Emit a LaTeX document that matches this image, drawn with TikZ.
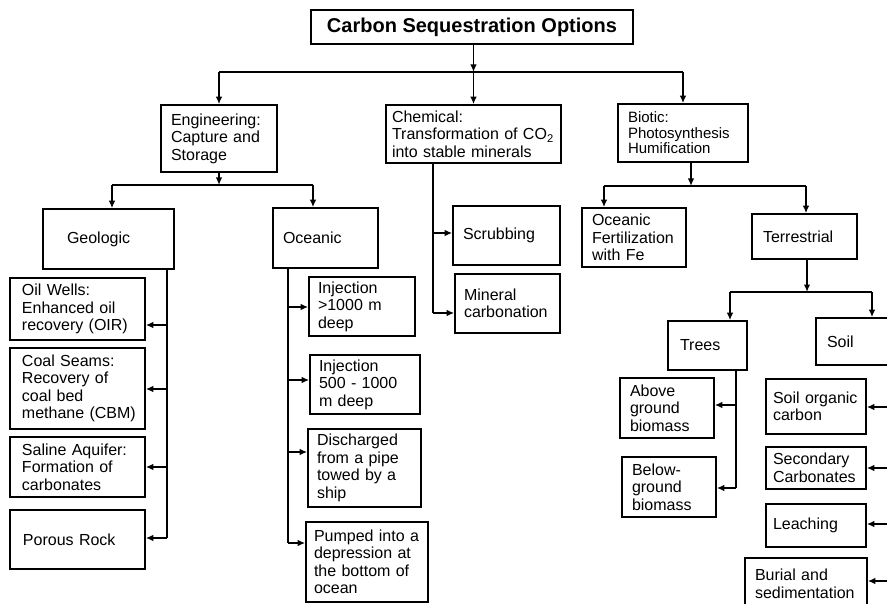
\documentclass[tikz,border=0pt]{standalone}
\usepackage{fontspec}
\setmainfont{Liberation Sans}
\usetikzlibrary{arrows.meta}
\newcommand\bodyfont{\fontsize{16bp}{17.5bp}\selectfont}
\newcommand\biofont{\fontsize{15bp}{15.5bp}\selectfont}
\newcommand\titlefont{\fontsize{20bp}{22bp}\selectfont\bfseries}
\begin{document}
\begin{tikzpicture}[x=1bp,y=-1bp,
  box/.style={draw, line width=1.6bp, align=left, inner ysep=0pt, font=\bodyfont},
  conn/.style={line width=1.6bp},
  arr/.style={conn, -{Latex[length=7.5bp,width=6.5bp]}}]
\useasboundingbox (0,0) rectangle (887,604);
\fill[white] (0,0) rectangle (887,604);
\clip (0,0) rectangle (887,604);

% nodes
\node[box, font=\titlefont, align=center, inner xsep=0pt, minimum width=322bp, minimum height=34bp] (title) at (472,27) {Carbon Sequestration Options};
\node[box, text width=96bp, inner xsep=10bp, minimum height=67bp] (eng) at (219,138.5) {Engineering:\\Capture~and\\Storage};
\node[box, text width=163bp, inner xsep=6bp, minimum height=58bp] (chem) at (473.5,134) {Chemical:\\Transformation~of~CO\textsubscript{2}\\into~stable~minerals};
\node[box, font=\biofont, text width=110bp, inner xsep=10bp, minimum height=58bp] (bio) at (683,133) {Biotic:\\Photosynthesis\\Humification};

\node[box, text width=83bp, inner xsep=24bp, minimum height=60bp] (geo) at (108.5,239) {Geologic};
\node[box, text width=85bp, inner xsep=10bp, minimum height=60bp] (oce) at (325.5,238) {Oceanic};

\node[box, text width=111bp, inner xsep=12bp, minimum height=62bp] (oil) at (77.5,309) {Oil~Wells:\\Enhanced~oil\\recovery~(OIR)};
\node[box, text width=111bp, inner xsep=12bp, minimum height=81bp] (coal) at (77.5,388.5) {Coal~Seams:\\Recovery~of\\coal~bed\\methane~(CBM)};
\node[box, text width=111bp, inner xsep=12bp, minimum height=60bp] (sal) at (77.5,467) {Saline~Aquifer:\\Formation~of\\carbonates};
\node[box, text width=109bp, inner xsep=13bp, minimum height=59bp] (por) at (77.5,539.5) {Porous~Rock};

\node[box, text width=88bp, inner xsep=9bp, minimum height=59bp] (inja) at (362,306.5) {Injection\\>1000~m\\deep};
\node[box, text width=92bp, inner xsep=9bp, minimum height=59bp] (injb) at (365,384.5) {Injection\\500~-~1000\\m~deep};
\node[box, text width=95bp, inner xsep=9bp, minimum height=78bp] (dis) at (364.5,468) {Discharged\\from~a~pipe\\towed~by~a\\ship};
\node[box, text width=106bp, inner xsep=8bp, minimum height=80bp] (pum) at (367,562) {Pumped~into~a\\depression~at\\the~bottom~of\\ocean};

\node[box, text width=87bp, inner xsep=10bp, minimum height=59bp] (scr) at (506.5,235.5) {Scrubbing};
\node[box, text width=87bp, inner xsep=9bp, minimum height=59bp] (mnc) at (507.5,303.5) {Mineral\\carbonation};

\node[box, text width=84bp, inner xsep=10bp, minimum height=59bp] (ofe) at (634,237.5) {Oceanic\\Fertilization\\with~Fe};
\node[box, text width=83bp, inner xsep=11bp, minimum height=45bp] (ter) at (804.5,236.5) {Terrestrial};
\node[box, text width=55bp, inner xsep=12bp, minimum height=49bp] (tre) at (707.5,345.5) {Trees};
\node[box, text width=62bp, inner xsep=11bp, minimum height=47bp] (soil) at (858,341.5) {Soil};
\node[box, text width=74bp, inner xsep=10bp, minimum height=60bp] (abv) at (667,408) {Above\\ground\\biomass};
\node[box, text width=74bp, inner xsep=10bp, minimum height=60bp] (blw) at (669,487) {Below-\\ground\\biomass};
\node[box, text width=86bp, inner xsep=7bp, minimum height=55bp] (soc) at (816,406.5) {Soil~organic\\carbon};
\node[box, text width=86bp, inner xsep=7bp, minimum height=42bp] (sec) at (816,468) {Secondary\\Carbonates};
\node[box, text width=86bp, inner xsep=7bp, minimum height=43bp] (lea) at (816,525.5) {Leaching};
\node[box, text width=102bp, inner xsep=10bp, minimum height=52bp] (bur) at (806,584) {Burial~and\\sedimentation};

% top level
\coordinate (j0) at (473.5,72);
\draw[arr] (j0 |- title.south) -- (j0);
\draw[arr] (j0) -- (chem.north);
\draw[conn] (eng.north |- j0) -- (bio.north |- j0);
\draw[arr] (eng.north |- j0) -- (eng.north);
\draw[arr] (bio.north |- j0) -- (bio.north);

% engineering
\coordinate (j1) at (219,185);
\coordinate (e1) at (112,185);
\coordinate (e2) at (313,185);
\draw[arr] (eng.south) -- (j1);
\draw[conn] (e1) -- (e2);
\draw[arr] (e1) -- (e1 |- geo.north);
\draw[arr] (e2) -- (e2 |- oce.north);

% geologic
\coordinate (g1) at (167,325);
\coordinate (g2) at (167,389);
\coordinate (g3) at (167,467);
\coordinate (g4) at (167,538);
\draw[conn] (g1 |- geo.south) -- (g4);
\draw[arr] (g1) -- (g1 -| oil.east);
\draw[arr] (g2) -- (g2 -| coal.east);
\draw[arr] (g3) -- (g3 -| sal.east);
\draw[arr] (g4) -- (g4 -| por.east);

% oceanic
\coordinate (o1) at (288,307);
\coordinate (o2) at (288,380);
\coordinate (o3) at (288,452);
\coordinate (o4) at (288,543);
\draw[conn] (o1 |- oce.south) -- (o4);
\draw[arr] (o1) -- (o1 -| inja.west);
\draw[arr] (o2) -- (o2 -| injb.west);
\draw[arr] (o3) -- (o3 -| dis.west);
\draw[arr] (o4) -- (o4 -| pum.west);

% chemical
\coordinate (c1) at (433,233);
\coordinate (c2) at (433,313);
\draw[conn] (c1 |- chem.south) -- (c2);
\draw[arr] (c1) -- (c1 -| scr.west);
\draw[arr] (c2) -- (c2 -| mnc.west);

% biotic
\coordinate (b0) at (691,186);
\coordinate (b1) at (604,186);
\coordinate (b2) at (806,186);
\draw[arr] (b0 |- bio.south) -- (b0);
\draw[conn] (b1) -- (b2);
\draw[arr] (b1) -- (b1 |- ofe.north);
\draw[arr] (b2) -- (b2 |- ter.north);

% terrestrial
\coordinate (t0) at (807,292);
\coordinate (t1) at (730,292);
\coordinate (t2) at (872,292);
\draw[arr] (t0 |- ter.south) -- (t0);
\draw[conn] (t1) -- (t2);
\draw[arr] (t1) -- (t1 |- tre.north);
\draw[arr] (t2) -- (t2 |- soil.north);

% trees
\coordinate (r1) at (736,405);
\coordinate (r2) at (736,488);
\draw[conn] (r1 |- tre.south) -- (r2);
\draw[arr] (r1) -- (r1 -| abv.east);
\draw[arr] (r2) -- (r2 -| blw.east);

% soil
\coordinate (s1) at (892,407);
\coordinate (s2) at (892,468);
\coordinate (s3) at (892,524);
\coordinate (s4) at (892,581);
\draw[conn] (s1 |- soil.south) -- (s4);
\draw[arr] (s1) -- (s1 -| soc.east);
\draw[arr] (s2) -- (s2 -| sec.east);
\draw[arr] (s3) -- (s3 -| lea.east);
\draw[arr] (s4) -- (s4 -| bur.east);
\end{tikzpicture}
\end{document}
